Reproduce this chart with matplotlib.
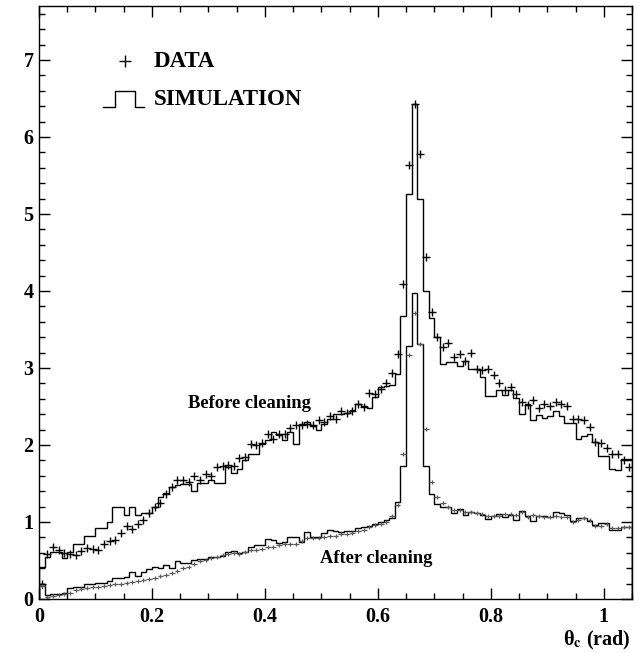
import numpy as np
import matplotlib
matplotlib.use('Agg')
import matplotlib.pyplot as plt
from matplotlib.ticker import MultipleLocator, FuncFormatter

# bins of 0.01 rad from 0 to 1.05
bin_width = 0.01

# before cleaning, simulation (histogram)
before_sim = [0.41, 0.55, 0.61, 0.61, 0.53, 0.61, 0.72, 0.72, 0.82, 0.82,
              0.92, 0.92, 1.00, 1.20, 1.20, 1.09, 1.20, 1.09, 1.12, 1.12,
              1.20, 1.32, 1.38, 1.45, 1.48, 1.49, 1.49, 1.40, 1.50, 1.50,
              1.55, 1.51, 1.51, 1.72, 1.63, 1.69, 1.81, 1.88, 1.88, 2.01,
              2.06, 2.17, 2.13, 2.06, 2.17, 2.01, 2.27, 2.30, 2.25, 2.19,
              2.27, 2.34, 2.40, 2.40, 2.42, 2.45, 2.53, 2.50, 2.48, 2.62,
              2.75, 2.76, 2.78, 2.92, 3.68, 5.26, 6.43, 5.20, 4.00, 3.65,
              3.40, 3.05, 3.08, 3.08, 3.03, 3.09, 2.99, 2.99, 2.88, 2.64,
              2.64, 2.72, 2.65, 2.72, 2.61, 2.40, 2.53, 2.32, 2.39, 2.35,
              2.38, 2.44, 2.38, 2.29, 2.29, 2.08, 2.12, 2.14, 2.04, 1.86,
              1.86, 1.69, 1.67, 1.82, 1.82]

# before cleaning, data
before_data = [0.20, 0.58, 0.68, 0.64, 0.60, 0.58, 0.57, 0.62, 0.66, 0.65,
               0.64, 0.72, 0.75, 0.77, 0.86, 0.95, 0.91, 0.98, 1.02, 1.12,
               1.19, 1.25, 1.36, 1.46, 1.54, 1.54, 1.52, 1.60, 1.54, 1.62,
               1.60, 1.71, 1.73, 1.74, 1.73, 1.83, 1.85, 2.01, 2.00, 2.02,
               2.14, 2.08, 2.14, 2.14, 2.22, 2.26, 2.26, 2.27, 2.26, 2.33,
               2.30, 2.37, 2.34, 2.44, 2.42, 2.44, 2.53, 2.49, 2.68, 2.66,
               2.73, 2.81, 2.93, 3.18, 4.09, 5.64, 6.43, 5.78, 4.44, 3.73,
               3.40, 3.27, 3.32, 3.14, 3.18, 3.09, 3.20, 2.99, 2.98, 2.99,
               2.91, 2.81, 2.72, 2.75, 2.66, 2.56, 2.52, 2.59, 2.48, 2.53,
               2.51, 2.56, 2.53, 2.50, 2.34, 2.34, 2.32, 2.23, 2.04, 2.03,
               1.96, 1.88, 1.88, 1.81, 1.71]

# after cleaning, simulation (histogram)
after_sim = [0.20, 0.05, 0.06, 0.07, 0.08, 0.14, 0.16, 0.16, 0.19, 0.19,
             0.21, 0.21, 0.24, 0.27, 0.27, 0.29, 0.35, 0.30, 0.35, 0.39,
             0.41, 0.40, 0.44, 0.40, 0.49, 0.47, 0.47, 0.50, 0.52, 0.52,
             0.54, 0.55, 0.56, 0.61, 0.62, 0.60, 0.61, 0.67, 0.70, 0.70,
             0.78, 0.77, 0.73, 0.74, 0.80, 0.80, 0.74, 0.87, 0.81, 0.80,
             0.86, 0.89, 0.88, 0.87, 0.88, 0.88, 0.92, 0.93, 0.95, 0.98,
             1.00, 1.02, 1.05, 1.26, 1.73, 3.29, 3.97, 3.31, 1.73, 1.36,
             1.23, 1.20, 1.20, 1.12, 1.17, 1.09, 1.13, 1.12, 1.09, 1.04,
             1.08, 1.10, 1.06, 1.09, 1.03, 1.14, 1.08, 1.01, 1.08, 1.08,
             1.06, 1.13, 1.12, 1.09, 1.01, 1.05, 1.05, 1.01, 0.96, 0.99,
             0.99, 0.89, 0.90, 0.93, 0.93]

# after cleaning, data
after_data = [0.17, 0.02, 0.04, 0.05, 0.07, 0.08, 0.12, 0.13, 0.14, 0.15,
              0.16, 0.17, 0.18, 0.19, 0.20, 0.21, 0.22, 0.24, 0.25, 0.26,
              0.27, 0.30, 0.31, 0.34, 0.36, 0.40, 0.41, 0.46, 0.49, 0.50,
              0.53, 0.55, 0.57, 0.58, 0.60, 0.59, 0.61, 0.63, 0.64, 0.65,
              0.67, 0.68, 0.70, 0.71, 0.72, 0.72, 0.75, 0.79, 0.79, 0.79,
              0.80, 0.82, 0.82, 0.84, 0.85, 0.86, 0.88, 0.90, 0.93, 0.96,
              0.98, 1.00, 1.08, 1.22, 1.88, 3.17, 3.72, 3.31, 2.21, 1.52,
              1.32, 1.25, 1.19, 1.16, 1.15, 1.13, 1.13, 1.12, 1.10, 1.08,
              1.08, 1.08, 1.10, 1.10, 1.09, 1.13, 1.06, 1.09, 1.08, 1.07,
              1.06, 1.08, 1.07, 1.06, 1.00, 1.02, 1.05, 1.02, 0.95, 0.95,
              0.97, 0.92, 0.92, 0.93, 0.94]

edges = np.arange(len(before_sim) + 1) * bin_width
centers = edges[:-1] + bin_width / 2

plt.rcParams['font.family'] = ['Liberation Serif', 'DejaVu Serif']
plt.rcParams['font.weight'] = 'bold'
plt.rcParams['mathtext.fontset'] = 'stix'

fig = plt.figure(figsize=(6.38, 6.53), dpi=100)
ax = fig.add_axes([39 / 638, 54 / 653, 593 / 638, 593 / 653])

ax.stairs(before_sim, edges, color='black', lw=1.0)
ax.stairs(after_sim, edges, color='black', lw=1.0)
ax.plot(centers, before_data, '+', color='black', ms=5.5, mew=1.0)
ax.errorbar(centers, after_data, xerr=bin_width / 2, fmt='none',
            ecolor='0.35', elinewidth=0.9)
ax.plot(centers, after_data, '|', color='0.35', ms=3.5, mew=0.9)

ax.set_xlim(0, 1.05)
ax.set_ylim(0, 7.7)

ax.xaxis.set_major_locator(MultipleLocator(0.2))
ax.xaxis.set_minor_locator(MultipleLocator(0.05))
ax.yaxis.set_major_locator(MultipleLocator(1))
ax.yaxis.set_minor_locator(MultipleLocator(0.2))
ax.xaxis.set_major_formatter(FuncFormatter(lambda v, p: '%g' % round(v, 2)))
ax.yaxis.set_major_formatter(FuncFormatter(lambda v, p: '%g' % v))

ax.tick_params(which='both', direction='in', top=True, right=True, width=1.0)
ax.tick_params(which='major', length=8, labelsize=14.5)
ax.tick_params(axis='x', which='major', pad=6)
ax.tick_params(axis='y', which='major', pad=4)
ax.tick_params(which='minor', length=4.5)
for s in ax.spines.values():
    s.set_linewidth(1.0)

ax.text(0.372, 2.485, 'Before cleaning', ha='center', va='baseline',
        fontsize=13.3, fontweight='bold')
ax.text(0.597, 0.468, 'After cleaning', ha='center', va='baseline',
        fontsize=13.3, fontweight='bold')
ax.text(0.997, -0.078, r'θ$_{\mathbf{c}}$ (rad)', transform=ax.transAxes,
        ha='right', va='baseline', fontsize=14.5, fontweight='bold')

# legend drawn by hand, ROOT style
ax.plot([0.145], [0.907], '+', color='black', ms=9, mew=1.0,
        transform=ax.transAxes, clip_on=False)
ax.plot([0.108, 0.128, 0.128, 0.162, 0.162, 0.177],
        [0.830, 0.830, 0.856, 0.856, 0.830, 0.830],
        color='black', lw=1.0, transform=ax.transAxes)
ax.text(0.194, 0.907, 'DATA', transform=ax.transAxes, ha='left', va='center',
        fontsize=16.5, fontweight='bold')
ax.text(0.194, 0.8415, 'SIMULATION', transform=ax.transAxes, ha='left',
        va='center', fontsize=16.5, fontweight='bold')

fig.savefig('out.png', dpi=100)
